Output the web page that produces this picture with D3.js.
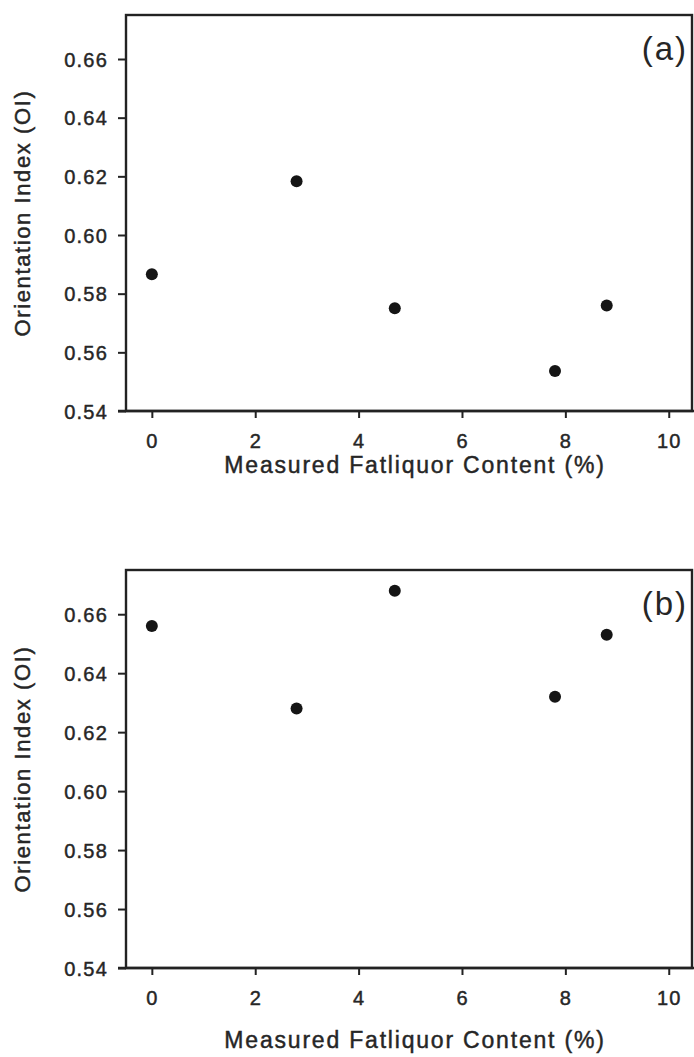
<!DOCTYPE html>
<html>
<head>
<meta charset="utf-8">
<script src="https://cdn.jsdelivr.net/npm/d3@7"></script>
<style>
  body { margin: 0; background: #fff; }
  text { font-family: Arial, "Liberation Sans", sans-serif; fill: #262626; stroke: #262626; stroke-width: 0.45px; }
  text.panel-name { stroke: none; }
</style>
</head>
<body>
<div id="chart"></div>
<script>
// measured fatliquor content (%) for the five samples
var fatliquor = [0, 2.8, 4.7, 7.8, 8.8];
// orientation index, panel (a) and panel (b)
var oiA = [0.5866, 0.6183, 0.5750, 0.5536, 0.5760];
var oiB = [0.656, 0.628, 0.668, 0.632, 0.653];
var panelNames = ['(a)', '(b)'];
var xTicks = [0, 2, 4, 6, 8, 10];
var yTicks = [0.54, 0.56, 0.58, 0.60, 0.62, 0.64, 0.66];
var xTitle = 'Measured Fatliquor Content (%)';
var yTitle = 'Orientation Index (OI)';

var W = 694, H = 1057;

var svg = d3.select('#chart').append('svg')
    .attr('width', W)
    .attr('height', H);

function renderPanel(values, name, top, bottom, titleGap) {
    var left = 126, right = 692;

    var x = d3.scaleLinear().domain([-0.5, 10.45]).range([left, right]);
    var y = d3.scaleLinear().domain([0.54, 0.675]).range([bottom, top]);

    var g = svg.append('g');

    // y axis ticks + labels
    var yAxis = d3.axisLeft(y)
        .tickValues(yTicks)
        .tickSize(8)
        .tickPadding(10)
        .tickFormat(d3.format('.2f'));
    var ya = g.append('g')
        .attr('transform', 'translate(' + left + ',0)')
        .call(yAxis);
    ya.select('.domain').remove();
    ya.selectAll('line').attr('stroke', '#222').attr('stroke-width', 2);
    ya.selectAll('text')
        .attr('font-size', 20)
        .attr('letter-spacing', 1.2)
        .attr('fill', '#262626')
        .attr('dy', '0.35em');

    // x axis ticks + labels
    var xAxis = d3.axisBottom(x)
        .tickValues(xTicks)
        .tickSize(7)
        .tickPadding(16);
    var xa = g.append('g')
        .attr('transform', 'translate(0,' + bottom + ')')
        .call(xAxis);
    xa.select('.domain').remove();
    xa.selectAll('line').attr('stroke', '#222').attr('stroke-width', 2);
    xa.selectAll('text')
        .attr('font-size', 20)
        .attr('letter-spacing', 1)
        .attr('fill', '#262626');

    // frame
    g.append('rect')
        .attr('x', left)
        .attr('y', top)
        .attr('width', right - left)
        .attr('height', bottom - top)
        .attr('fill', 'none')
        .attr('stroke', '#222')
        .attr('stroke-width', 2.4);

    // bottom axis line runs a little past the frame
    g.append('line')
        .attr('x1', left - 8).attr('x2', W)
        .attr('y1', bottom).attr('y2', bottom)
        .attr('stroke', '#222')
        .attr('stroke-width', 2.4);

    // points
    g.selectAll('circle')
        .data(fatliquor)
        .enter()
        .append('circle')
        .attr('cx', function (d) { return x(d); })
        .attr('cy', function (d, i) { return y(values[i]); })
        .attr('r', 6)
        .attr('fill', '#151515');

    // panel letter
    g.append('text')
        .attr('class', 'panel-name')
        .attr('x', right - 4)
        .attr('y', top + 45)
        .attr('text-anchor', 'end')
        .attr('font-size', 33)
        .attr('letter-spacing', 2)
        .text(name);

    // axis titles
    g.append('text')
        .attr('transform', 'translate(30,' + (top + bottom) / 2 + ') rotate(-90)')
        .attr('text-anchor', 'middle')
        .attr('font-size', 22)
        .attr('letter-spacing', 1.6)
        .text(yTitle);

    g.append('text')
        .attr('x', 415)
        .attr('y', bottom + titleGap)
        .attr('text-anchor', 'middle')
        .attr('font-size', 23)
        .attr('letter-spacing', 1.8)
        .text(xTitle);
}

renderPanel(oiA, panelNames[0], 15, 411, 62);
renderPanel(oiB, panelNames[1], 570, 968, 80);
</script>
</body>
</html>
